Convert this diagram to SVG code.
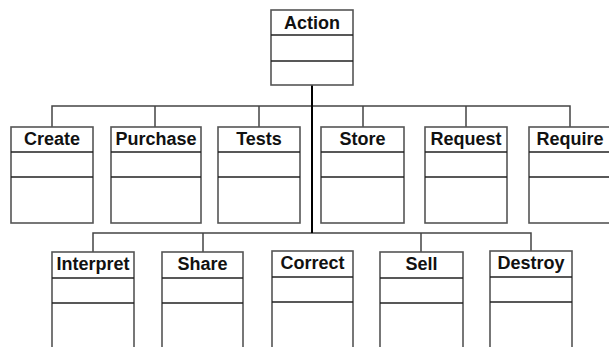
<svg xmlns="http://www.w3.org/2000/svg" width="609" height="347" viewBox="0 0 609 347">
<style>
.box{fill:#fff;stroke:#555;stroke-width:1.6}
.sep{stroke:#222;stroke-width:1.4}
.lbl{font-family:"Liberation Sans",Arial,sans-serif;font-weight:bold;font-size:18px;fill:#111;text-anchor:middle}
.con{fill:none;stroke:#444;stroke-width:1.5}
.main{fill:none;stroke:#000;stroke-width:2}
</style>
<rect width="609" height="347" fill="#fff"/>
<g id="connectors">
<path class="con" d="M52 127V106H570V127M155 106V127M259 106V127M363 106V127M466 106V127"/>
<path class="con" d="M93 252V233H531V252M203 233V252M421 233V252"/>
<path class="main" d="M312 85V233"/>
</g>
<g id="action"><rect class="box" x="271" y="10" width="82" height="75"/><path class="sep" d="M271 35H353M271 61H353"/><text class="lbl" x="312" y="28.5">Action</text></g>
<g id="create"><rect class="box" x="11" y="127" width="82" height="96"/><path class="sep" d="M11 152H93M11 177H93"/><text class="lbl" x="52" y="145">Create</text></g>
<g id="purchase"><rect class="box" x="111" y="127" width="90" height="96"/><path class="sep" d="M111 152H201M111 177H201"/><text class="lbl" x="156" y="145">Purchase</text></g>
<g id="tests"><rect class="box" x="218" y="127" width="82" height="96"/><path class="sep" d="M218 152H300M218 177H300"/><text class="lbl" x="259" y="145">Tests</text></g>
<g id="store"><rect class="box" x="321" y="127" width="83" height="96"/><path class="sep" d="M321 152H404M321 177H404"/><text class="lbl" x="362.5" y="145">Store</text></g>
<g id="request"><rect class="box" x="425" y="127" width="82" height="96"/><path class="sep" d="M425 152H507M425 177H507"/><text class="lbl" x="466" y="145">Request</text></g>
<g id="require"><rect class="box" x="529" y="127" width="82" height="96"/><path class="sep" d="M529 152H611M529 177H611"/><text class="lbl" x="570" y="145">Require</text></g>
<g id="interpret"><rect class="box" x="52" y="252" width="82" height="110"/><path class="sep" d="M52 278H134M52 303H134"/><text class="lbl" x="93" y="270">Interpret</text></g>
<g id="share"><rect class="box" x="162" y="252" width="81" height="110"/><path class="sep" d="M162 278H243M162 303H243"/><text class="lbl" x="202.5" y="270">Share</text></g>
<g id="correct"><rect class="box" x="272" y="251" width="81" height="110"/><path class="sep" d="M272 277H353M272 302H353"/><text class="lbl" x="312.5" y="269">Correct</text></g>
<g id="sell"><rect class="box" x="380" y="252" width="83" height="110"/><path class="sep" d="M380 278H463M380 303H463"/><text class="lbl" x="421.5" y="270">Sell</text></g>
<g id="destroy"><rect class="box" x="490" y="251" width="82" height="110"/><path class="sep" d="M490 277H572M490 302H572"/><text class="lbl" x="531" y="269">Destroy</text></g>
</svg>
